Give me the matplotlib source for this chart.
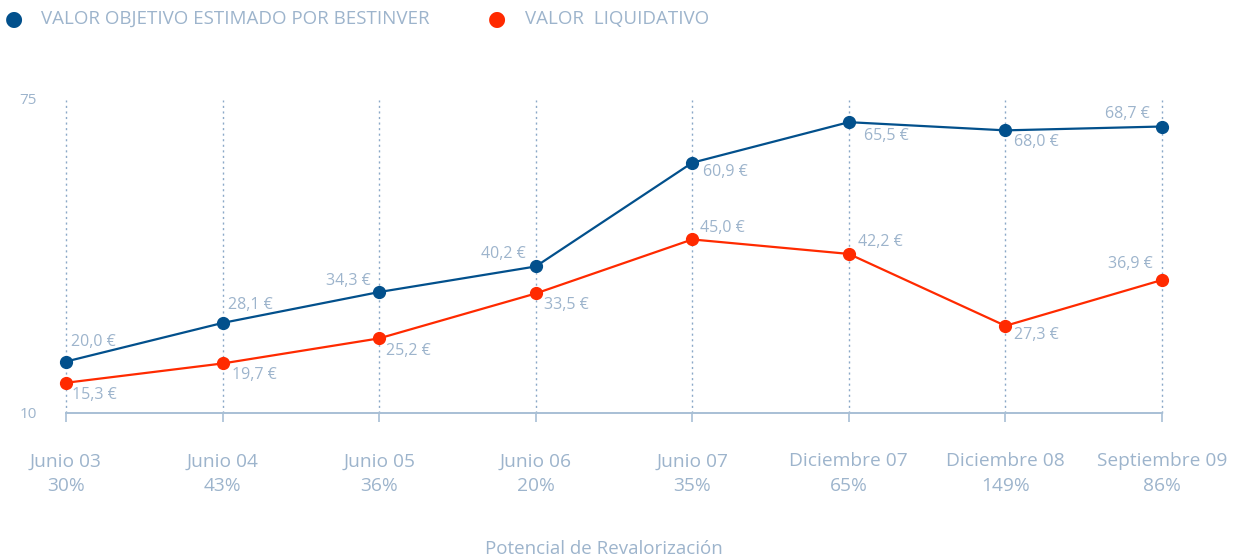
import matplotlib.pyplot as plt

# fechas y potencial de revalorización
periodos = ['Junio 03', 'Junio 04', 'Junio 05', 'Junio 06', 'Junio 07',
            'Diciembre 07', 'Diciembre 08', 'Septiembre 09']
potencial = ['30%', '43%', '36%', '20%', '35%', '65%', '149%', '86%']

valor_objetivo = [20.6, 28.6, 35.0, 40.3, 61.8, 70.2, 68.5, 69.3]
valor_liquidativo = [16.2, 20.2, 25.4, 34.7, 45.9, 42.9, 28.0, 37.5]

# etiquetas impresas junto a cada punto
etiq_objetivo = ['20,0 €', '28,1 €', '34,3 €', '40,2 €', '60,9 €', '65,5 €', '68,0 €', '68,7 €']
etiq_liquidativo = ['15,3 €', '19,7 €', '25,2 €', '33,5 €', '45,0 €', '42,2 €', '27,3 €', '36,9 €']

AZUL = '#02508C'
ROJO = '#FF2A00'
TEXTO = '#9DB4CC'
EJE = '#A8BFD5'
PUNTEADA = '#8CA9C8'

plt.rcParams['font.family'] = ['Open Sans', 'DejaVu Sans']

W, H = 1243, 557
fig = plt.figure(figsize=(W / 100, H / 100), dpi=100)
x0, x1 = 66, 1162
y_top, y_bot = 99, 412.7
ax = fig.add_axes([x0 / W, (H - y_bot) / H, (x1 - x0) / W, (y_bot - y_top) / H])

xs = list(range(len(periodos)))
ax.set_xlim(0, len(periodos) - 1)
ax.set_ylim(10, 75)

for x in xs:
    ax.plot([x, x], [10, 74.8], color=PUNTEADA, lw=1, ls=(0, (1.5, 2.5)), zorder=1, clip_on=False)

ax.plot(xs, valor_objetivo, color=AZUL, lw=1.6, marker='o', ms=8.5, zorder=3, clip_on=False)
ax.plot(xs, valor_liquidativo, color=ROJO, lw=1.6, marker='o', ms=8.5, zorder=3, clip_on=False)

# desplazamientos de las etiquetas (pixeles)
off_obj = [(5, 20, 'left'), (5, 18, 'left'), (-8, 11, 'right'), (-10, 12, 'right'),
           (11, -9, 'left'), (15, -14, 'left'), (9, -12, 'left'), (-12, 13, 'right')]
off_liq = [(6, -12, 'left'), (9, -12, 'left'), (7, -13, 'left'), (8, -12, 'left'),
           (8, 11, 'left'), (9, 12, 'left'), (9, -9, 'left'), (-9, 16, 'right')]

for x, v, t, (dx, dy, ha) in zip(xs, valor_objetivo, etiq_objetivo, off_obj):
    ax.annotate(t, (x, v), xytext=(dx, dy), textcoords='offset pixels',
                ha=ha, va='center', fontsize=11.5, color=TEXTO)
for x, v, t, (dx, dy, ha) in zip(xs, valor_liquidativo, etiq_liquidativo, off_liq):
    ax.annotate(t, (x, v), xytext=(dx, dy), textcoords='offset pixels',
                ha=ha, va='center', fontsize=11.5, color=TEXTO)

for s in ['top', 'right', 'left']:
    ax.spines[s].set_visible(False)
ax.spines['bottom'].set_color(EJE)
ax.spines['bottom'].set_linewidth(1.4)

ax.set_xticks(xs)
ax.set_xticklabels([f'{p}\n{q}' for p, q in zip(periodos, potencial)],
                   fontsize=13.8, color=TEXTO, linespacing=1.45)
ax.tick_params(axis='x', length=6.5, width=1.2, color=EJE, pad=22)
ax.set_yticks([10, 75])
ax.set_yticklabels(['10', '75'], fontsize=11, color=TEXTO)
ax.tick_params(axis='y', length=0, pad=21)

fig.text(604 / W, 1 - 549 / H, 'Potencial de Revalorización', ha='center', va='center',
         fontsize=13.5, color=TEXTO)

# leyenda manual
fig.text(14 / W, 1 - 19 / H, '●', ha='center', va='center', fontsize=15, color=AZUL)
fig.text(41 / W, 1 - 19 / H, 'VALOR OBJETIVO ESTIMADO POR BESTINVER', ha='left',
         va='center', fontsize=13.5, color=TEXTO)
fig.text(497 / W, 1 - 19 / H, '●', ha='center', va='center', fontsize=15, color=ROJO)
fig.text(525 / W, 1 - 19 / H, 'VALOR  LIQUIDATIVO', ha='left', va='center',
         fontsize=13.5, color=TEXTO)

fig.savefig('out.png', dpi=100, facecolor='white')
